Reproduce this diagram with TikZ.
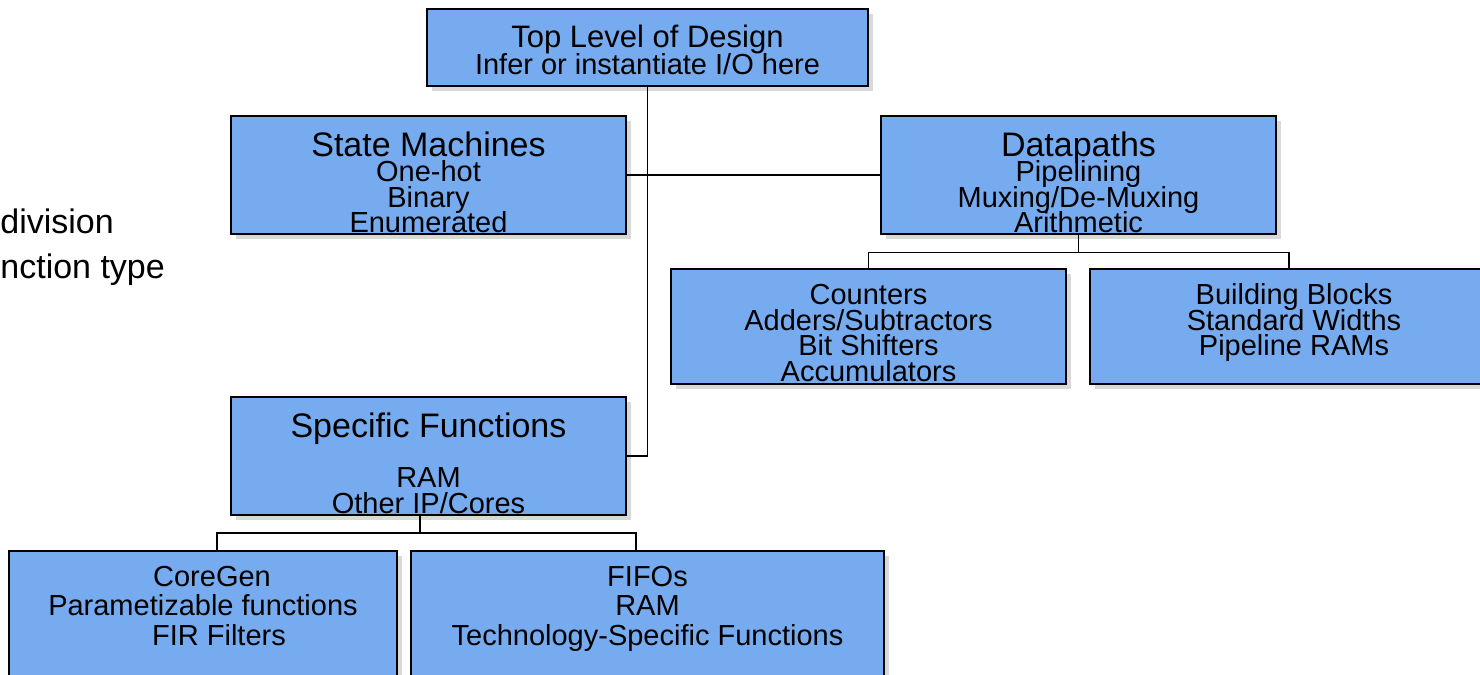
\documentclass[tikz,border=0pt]{standalone}
\usepackage{fontspec}
\setmainfont{Liberation Sans}
\usetikzlibrary{shadows}
\definecolor{blkblue}{RGB}{118,171,239}
\newcommand{\blkfont}{\fontsize{14.5}{12.75}\selectfont\lineskiplimit=-20pt\relax}
\newcommand{\boxtitle}[1]{{\fontsize{17}{12.75}\selectfont #1}}

\begin{document}
\begin{tikzpicture}
    [x=0.5pt,y=-0.5pt,
     blk/.style={draw, line width=1pt, fill=blkblue, align=center, inner sep=0pt,
       font=\blkfont,
       drop shadow={shadow xshift=2.5pt, shadow yshift=-2.5pt, opacity=0.3}},
     link/.style={line width=0.8pt}]
  \useasboundingbox (0,0) rectangle (1480,675);
  \clip (0,0) rectangle (1480,675);

  % boxes
  \node[blk, minimum width=220.5pt, minimum height=38.5pt] (top) at (647.5,47.5)
    {\rule{0pt}{13.3pt}{\fontsize{15.5}{13.5}\selectfont Top Level of Design}\\[0.75pt]Infer or instantiate I/O here};
  \node[blk, minimum width=197.5pt, minimum height=59pt] (state) at (428.5,175)
    {\rule{0pt}{19.4pt}\boxtitle{State Machines}\\One-hot\\Binary\\Enumerated};
  \node[blk, minimum width=197.5pt, minimum height=59pt] (data) at (1078.5,175)
    {\rule{0pt}{19.4pt}\boxtitle{Datapaths}\\Pipelining\\Muxing/De-Muxing\\Arithmetic};
  \node[blk, minimum width=197.5pt, minimum height=57.5pt] (counters) at (868.5,326.5)
    {\rule{0pt}{16.6pt}Counters\\Adders/Subtractors\\Bit Shifters\\Accumulators};
  \node[blk, minimum width=204pt, minimum height=57.5pt] (blocks) at (1294,326.5)
    {Building Blocks\\Standard Widths\\Pipeline RAMs\rule[-7pt]{0pt}{7pt}};
  \node[blk, minimum width=197.5pt, minimum height=59pt] (specific) at (428.5,456)
    {\rule{0pt}{19.4pt}\boxtitle{Specific Functions}\\[12.5pt]RAM\\Other IP/Cores};
  \node[blk, anchor=north, minimum width=194pt, inner ysep=7.5pt, text depth=60pt,
        font=\fontsize{14.5}{14.75}\selectfont] (coregen) at (203,550)
    {\hspace*{9pt}CoreGen\\Parametizable functions\\\hspace*{16pt}FIR Filters};
  \node[blk, anchor=north, minimum width=236.5pt, inner ysep=7.5pt, text depth=60pt,
        font=\fontsize{14.5}{14.75}\selectfont] (fifos) at (647.5,550)
    {FIFOs\\RAM\\Technology-Specific Functions};

  % text cut at the left edge
  \node[anchor=base west, inner sep=0pt, font=\fontsize{17}{20}\selectfont] (division) at (0,233) {division};
  \node[anchor=base west, inner sep=0pt, font=\fontsize{17}{20}\selectfont] (nction) at (0,278) {nction type};

  % connectors
  \draw[link] (top.south) |- (specific.east);
  \draw[link] (state.east) -- (data.west);
  \draw[link] (data.south) -- ++(0,17.5) coordinate (datasplit);
  \draw[link] (counters.north) |- (datasplit) -| ([xshift=-2.5pt]blocks.north);
  \draw[link] ([xshift=-4.25pt]specific.south) -- ++(0,17) coordinate (specsplit);
  \draw[link] ([xshift=7pt]coregen.north) |- (specsplit) -| ([xshift=-5.75pt]fifos.north);
\end{tikzpicture}
\end{document}
